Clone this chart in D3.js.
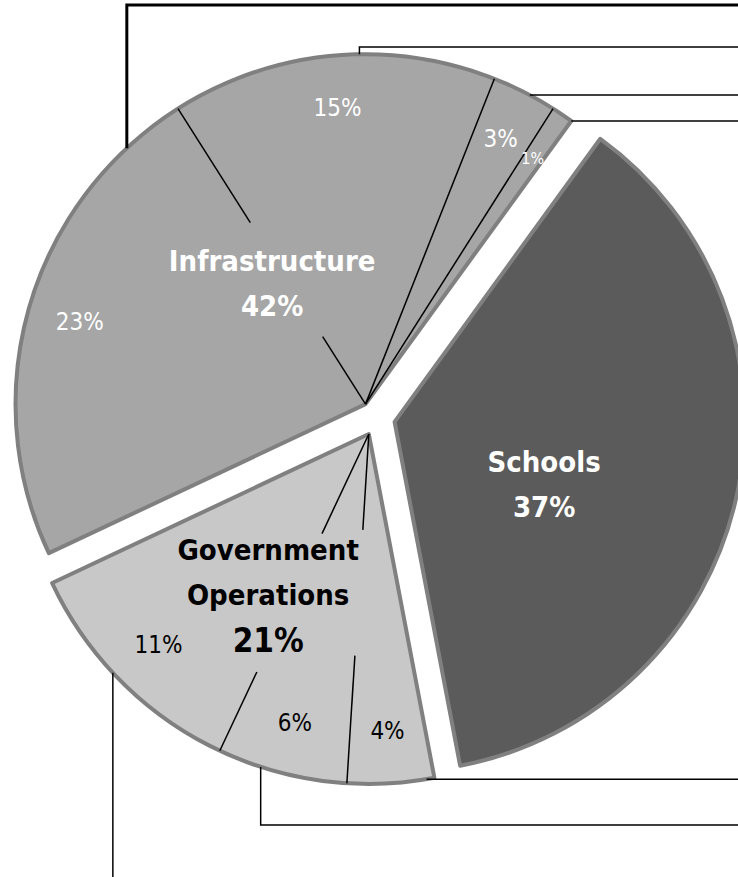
<!DOCTYPE html>
<html><head><meta charset="utf-8">
<script src="https://cdn.jsdelivr.net/npm/d3@7"></script>
<style>body{margin:0;background:#fff}svg{display:block}</style>
</head><body><svg width="738" height="877"></svg>
<script>
// group data
var groups = ["Schools", "Government Operations", "Infrastructure"];
var groupValues = [37, 21, 42];
var groupLabels = [["Schools", "37%"], ["Government", "Operations", "21%"], ["Infrastructure", "42%"]];
// sub slices (clockwise)
var infraParts = [23, 15, 3, 1];
var govParts = [4, 6, 11];

var R = 350, cx = 377, cy = 418, explode = 18;
var fills = ["#5b5b5b", "#c8c8c8", "#a6a6a6"],
	textFill = ["#fff", "#000", "#fff"],
	labelPos = [[10, 162], [5, 190], [2, 153]];
var rad = Math.PI / 180;

var svg = d3.select("svg");
var font = "'DejaVu Sans Condensed', 'Liberation Sans Narrow', sans-serif";

var pie = d3.pie().sort(null).startAngle(36 * rad).endAngle(396 * rad);
var arcs = pie(groupValues);
var arc = d3.arc().innerRadius(0).outerRadius(R);

function polar(a, r) { return [Math.sin(a) * r, -Math.cos(a) * r]; }

var g = svg.selectAll("g.grp").data(arcs).enter().append("g")
	.attr("class", "grp")
	.attr("transform", function(d) {
		var m = (d.startAngle + d.endAngle) / 2, p = polar(m, explode);
		d.ox = cx + p[0]; d.oy = cy + p[1];
		return "translate(" + d.ox + "," + d.oy + ")";
	});

g.append("path").attr("d", arc)
	.attr("fill", function(d, i) { return fills[i]; })
	.attr("stroke", "#808080").attr("stroke-width", 4).attr("stroke-linejoin", "round");

// sub slices, separators and labels
var subs = [null, govParts, infraParts];
var gaps = [null, [[96, 222], [110, 263]], [[80, 215]]];
arcs.forEach(function(d, i) {
	if (!subs[i]) return;
	var sp = d3.pie().sort(null).startAngle(d.startAngle).endAngle(d.endAngle)(subs[i]);
	var grp = d3.select(g.nodes()[i]);
	sp.forEach(function(s, j) {
		if (j > 0) {
			var a = s.startAngle, gp = gaps[i][j - 1], segs = gp ? [[0, gp[0]], [gp[1], R]] : [[0, R]];
			segs.forEach(function(sg) {
				var p0 = polar(a, sg[0]), p1 = polar(a, sg[1]);
				grp.append("line").attr("x1", p0[0]).attr("y1", p0[1]).attr("x2", p1[0]).attr("y2", p1[1])
					.attr("stroke", "#000").attr("stroke-width", 1.5);
			});
		}
		var p = polar((s.startAngle + s.endAngle) / 2, R * 0.85);
		grp.append("text").attr("x", p[0]).attr("y", p[1]).attr("dy", "0.35em")
			.attr("text-anchor", "middle").attr("font-family", font)
			.attr("font-size", s.data < 2 ? 16 : 24).attr("fill", textFill[i])
			.text(s.data + "%");
	});
});

// main labels
g.each(function(d, i) {
	var m = (d.startAngle + d.endAngle) / 2 + labelPos[i][0] * rad, p = polar(m, labelPos[i][1]);
	var lines = groupLabels[i], n = lines.length;
	d3.select(this).append("text").attr("text-anchor", "middle")
		.attr("font-family", font).attr("font-weight", "bold")
		.attr("fill", textFill[i])
		.selectAll("tspan").data(lines).enter().append("tspan")
		.attr("x", p[0]).attr("y", function(t, k) { return p[1] + (k - (n - 1) / 2) * 45; })
		.attr("dy", "0.35em")
		.attr("font-size", function(t, k) { return (i === 1 && k === n - 1) ? 33 : 29; })
		.text(function(t) { return t; });
});

// leader lines: group index, angle (deg), elbow y (null = straight right)
var leaders = [
	[2, 317, 5], [2, 359, 47], [2, 388, null], [2, 396, null],
	[1, 170.5, null], [1, 198, 825], [1, 227, 877]
];
leaders.forEach(function(l) {
	var d = arcs[l[0]], p = polar(l[1] * rad, R);
	var x = d.ox + p[0], y = d.oy + p[1], path = d3.path();
	path.moveTo(x, y);
	if (l[2] === null) path.lineTo(738, y);
	else { path.lineTo(x, l[2]); if (l[2] < 877) path.lineTo(738, l[2]); }
	svg.append("path").attr("d", path.toString()).attr("fill", "none")
		.attr("stroke", "#000").attr("stroke-width", l[2] === 5 ? 3 : 1.5);
});
</script></body></html>
